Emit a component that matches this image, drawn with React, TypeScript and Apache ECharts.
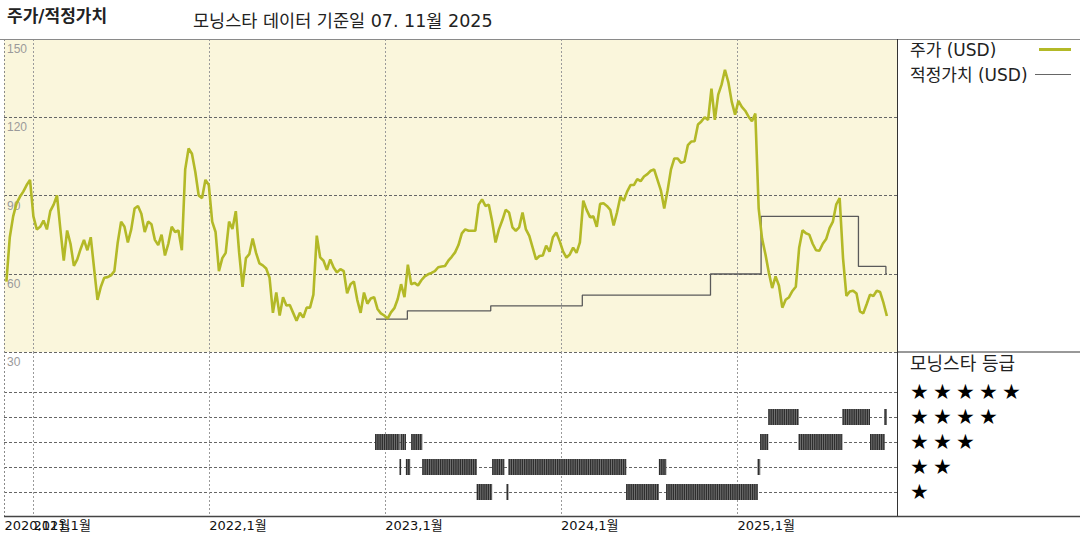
import React, { useEffect, useRef } from 'react';
import * as echarts from 'echarts';

const DAY = 86400000;
const ts = (s: string) => new Date(s + 'T00:00:00').getTime();

// ---- axis / ticks ----
const axisStart = '2020-11-01';
const axisEnd = '2025-11-28';
const startLabelDate = '2020-11-02';
const yearTickDates = ['2021-01-01', '2022-01-01', '2023-01-01', '2024-01-01', '2025-01-01'];
const priceMin = 30;
const priceMax = 150;
const priceStep = 30;
const starRows = [1, 2, 3, 4, 5];
const starLabels = ['★★★★★', '★★★★', '★★★', '★★', '★'];

// ---- price (USD), weekly closes from priceStart ----
const priceStart = '2020-11-06';
const priceValues = [
  57, 74, 82, 87, 89.5, 91.5, 94, 96, 82, 77,
  78, 80.4, 77, 84, 86.5, 90, 77, 65, 76.6, 71.5,
  63, 65.5, 69.5, 73, 69, 74, 62, 50, 55, 58.5,
  58.7, 59.4, 61, 72, 80, 78, 72, 77, 85, 86,
  83, 76, 80, 79, 73, 71, 75, 67, 71.5, 78,
  76, 76.6, 69, 100, 108, 106, 99, 90, 89, 96,
  94, 80, 76, 61, 66, 68, 80, 77.2, 84, 68,
  55, 66, 67.5, 73.5, 68, 64, 63.2, 62, 58.5, 45,
  52.8, 44, 51, 47.8, 48, 45, 42, 45, 43.2, 47,
  47, 52, 74.6, 66.3, 65, 61.5, 65.5, 62.4, 60.5, 61.8,
  61, 52.5, 56, 57, 50, 45, 52.8, 48.5, 50.5, 51,
  46.5, 44.8, 44, 42.8, 45.2, 46.8, 50.3, 56, 51, 63.5,
  56, 56.5, 55.5, 57.5, 59, 59.8, 60.3, 61, 62.5, 62.8,
  63, 65, 66.5, 68.2, 71, 75.5, 77, 76.5, 76.5, 76.5,
  86.5, 88.5, 86, 86.5, 80, 72, 77, 80.5, 84.5, 83.5,
  77.8, 76.5, 77.8, 83.5, 77, 74.5, 70, 65.5, 66.8, 67,
  70.8, 68.5, 74, 75.8, 72.5, 68.6, 66.2, 67.4, 70, 68,
  72, 88, 84.5, 81.7, 82, 78, 86.8, 87, 86, 84.5,
  78.5, 83.5, 89.5, 88, 91.5, 94, 94, 96.3, 95.5, 97.3,
  98.2, 99.5, 100, 96, 92, 85, 92, 100, 104.2, 104.2,
  102.5, 103, 109.3, 110.7, 110.8, 117.2, 118.4, 120, 119, 131,
  119, 128.7, 132.5, 138.2, 133.5, 126, 121, 126.3, 124, 122.5,
  120.2, 118.5, 121.4, 85, 73.5, 67.5, 60.5, 54.5, 59, 55.5,
  47, 50, 51, 53.4, 55, 70, 76.7, 75.5, 75, 71.5,
  69, 68.8, 71.5, 73.3, 77.5, 80, 86.6, 89, 66, 51.5,
  53.2, 53.5, 52.4, 45.6, 44.8, 48.3, 52, 51.5, 53.5, 53,
  48.8, 43.8,
];

// ---- fair value (USD), step changes ----
const fairValueDates = ['2022-12-13', '2023-02-16', '2023-08-08', '2024-02-14', '2024-11-06', '2025-02-19', '2025-09-09', '2025-11-05', '2025-11-07'];
const fairValues = [42.6, 45.8, 47.7, 51.8, 59.9, 82.0, 62.8, 60, 60];

// ---- morningstar rating periods ----
const ratingStarts = ['2022-12-11', '2023-01-31', '2023-02-02', '2023-02-13', '2023-02-24', '2023-03-19', '2023-07-10', '2023-08-11', '2023-09-10', '2023-09-14', '2024-05-15', '2024-07-22', '2024-08-06', '2025-02-12', '2025-02-17', '2025-03-06', '2025-05-08', '2025-08-07', '2025-10-03', '2025-11-02'];
const ratingEnds = ['2023-01-31', '2023-02-02', '2023-02-13', '2023-02-22', '2023-03-19', '2023-07-10', '2023-08-11', '2023-09-05', '2023-09-14', '2024-05-15', '2024-07-22', '2024-08-06', '2025-02-12', '2025-02-17', '2025-03-06', '2025-05-08', '2025-08-07', '2025-10-03', '2025-11-02', '2025-11-07'];
const ratingStars = [3, 2, 3, 2, 3, 2, 1, 2, 1, 2, 1, 2, 1, 2, 3, 4, 3, 4, 3, 4];

const KR = '"DejaVu Sans", "Noto Sans CJK KR", sans-serif';
const PRICE_COLOR = '#b3b927';

export default function App() {
  const ref = useRef<HTMLDivElement>(null);

  useEffect(() => {
    if (!ref.current) return;
    const chart = echarts.init(ref.current, undefined, { renderer: 'svg' });

    const priceData = priceValues.map((v, i) => [ts(priceStart) + i * 7 * DAY, v]);
    const fairData = fairValueDates.map((d, i) => [ts(d), fairValues[i]]);
    const ratingData = ratingStarts.map((s, i) => [ts(s), ts(ratingEnds[i]), ratingStars[i]]);
    const yearVals = yearTickDates.map(ts);
    const allTickVals = [ts(startLabelDate), ...yearVals];

    const fmt = (v: number) => {
      const d = new Date(v);
      return `${d.getFullYear()},${d.getMonth() + 1}월`;
    };

    const hLine = (x1: number, y1: number, x2: number, y2: number, stroke: string, lineWidth = 1, lineDash?: number[]) => ({
      type: 'line',
      silent: true,
      z: 50,
      shape: { x1, y1, x2, y2 },
      style: { stroke, lineWidth, lineDash },
    });
    const txt = (text: string, x: number, y: number, font: string, fill = '#222') => ({
      type: 'text',
      silent: true,
      z: 50,
      x,
      y,
      style: { text, font, fill, textAlign: 'left', textVerticalAlign: 'middle' },
    });

    const starYs = [391.5, 417, 441.5, 466.5, 491.5];
    const labelStyle = {
      show: true, formatter: fmt, align: 'left', margin: 3,
      color: '#111', fontSize: 13, fontFamily: KR, hideOverlap: false,
    };

    const option: any = {
      animation: false,
      backgroundColor: '#ffffff',
      grid: [
        { left: 4, right: 183, top: 39, height: 313, show: true, backgroundColor: '#faf6dc', borderWidth: 0 },
        { left: 4, right: 183, top: 352, height: 164, show: true, backgroundColor: '#ffffff', borderWidth: 0 },
      ],
      xAxis: [
        {
          type: 'value', gridIndex: 0, min: ts(axisStart), max: ts(axisEnd),
          axisLine: { show: false },
          axisTick: { show: false, customValues: yearVals },
          axisLabel: { show: false },
          splitLine: { show: true, lineStyle: { color: '#9a9a9a', width: 1, type: [2, 2] } },
        },
        {
          type: 'value', gridIndex: 1, min: ts(axisStart), max: ts(axisEnd),
          axisLine: { show: false },
          axisTick: { show: false, customValues: yearVals },
          axisLabel: { ...labelStyle, customValues: yearVals },
          splitLine: { show: true, lineStyle: { color: '#9a9a9a', width: 1, type: [2, 2] } },
        },
        {
          type: 'value', gridIndex: 1, min: ts(axisStart), max: ts(axisEnd), position: 'bottom',
          axisLine: { show: false },
          axisTick: { show: false, customValues: [allTickVals[0]] },
          axisLabel: { ...labelStyle, customValues: [allTickVals[0]] },
          splitLine: { show: false },
        },
      ],
      yAxis: [
        {
          type: 'value', gridIndex: 0, min: priceMin, max: priceMax, interval: priceStep,
          axisLine: { show: false }, axisTick: { show: false },
          axisLabel: {
            inside: true, margin: 3, verticalAlign: 'top', padding: [4, 0, 0, 0],
            color: '#9a9a9a', fontSize: 12, fontFamily: '"Liberation Sans", Arial, sans-serif',
          },
          splitLine: { show: true, lineStyle: { color: '#666', width: 1, type: [3, 2] } },
        },
        {
          type: 'value', gridIndex: 1, min: 0.04, max: 6.6,
          axisLine: { show: false },
          axisTick: { show: false, customValues: starRows },
          axisLabel: { show: false },
          splitLine: { show: true, lineStyle: { color: '#666', width: 1, type: [3, 2] } },
        },
      ],
      series: [
        {
          name: '적정가치 (USD)', type: 'line', xAxisIndex: 0, yAxisIndex: 0, step: 'end',
          data: fairData, showSymbol: false, symbol: 'none', z: 3,
          lineStyle: { color: '#5a5a5a', width: 1.3 },
        },
        {
          name: '주가 (USD)', type: 'line', xAxisIndex: 0, yAxisIndex: 0,
          data: priceData, showSymbol: false, symbol: 'none', z: 4,
          lineStyle: { color: PRICE_COLOR, width: 2.6 },
        },
        {
          name: '모닝스타 등급', type: 'custom', xAxisIndex: 1, yAxisIndex: 1,
          data: ratingData, encode: { x: [0, 1], y: 2 }, z: 4,
          renderItem: (params: any, api: any) => {
            const s = api.coord([api.value(0), api.value(2)]);
            const e = api.coord([api.value(1), api.value(2)]);
            const w = Math.max(e[0] - s[0], 1.5);
            const children: any[] = [
              { type: 'rect', shape: { x: s[0], y: s[1] - 8, width: w, height: 16 }, style: { fill: '#777777' } },
            ];
            for (let x = s[0]; x < s[0] + w; x += 2.2) {
              children.push({
                type: 'rect',
                shape: { x, y: s[1] - 8, width: Math.min(1.3, s[0] + w - x), height: 16 },
                style: { fill: '#2e2e2e' },
              });
            }
            return { type: 'group', children };
          },
        },
      ],
      graphic: [
        txt('주가/적정가치', 7, 16, `bold 17px ${KR}`, '#222'),
        txt('모닝스타 데이터 기준일 07. 11월 2025', 193, 21, `17.5px ${KR}`, '#222'),
        hLine(0, 39.5, 1080, 39.5, '#8a8a8a', 1),
        hLine(4.5, 39, 4.5, 516, '#8a8a8a', 1, [2, 2]),
        hLine(897.5, 39, 897.5, 516, '#333', 1),
        hLine(897, 352, 1080, 352, '#333', 1),
        hLine(4, 516.5, 1080, 516.5, '#444', 1.5),
        txt('주가 (USD)', 910, 50, `17px ${KR}`, '#222'),
        hLine(1039, 49.5, 1071, 49.5, PRICE_COLOR, 3),
        txt('적정가치 (USD)', 910, 75, `17px ${KR}`, '#222'),
        hLine(1035, 74.5, 1071, 74.5, '#666', 1.2),
        txt('모닝스타 등급', 910, 363, `18px ${KR}`, '#222'),
        ...starLabels.map((s, i) => txt(s.split('').join('\u2009'), 910, starYs[i], `21px "DejaVu Sans", sans-serif`, '#000')),
      ],
    };

    chart.setOption(option);
    return () => chart.dispose();
  }, []);

  return (
    <div
      ref={ref}
      style={{ position: 'fixed', left: 0, top: 0, width: 1080, height: 540, background: '#fff' }}
    />
  );
}
